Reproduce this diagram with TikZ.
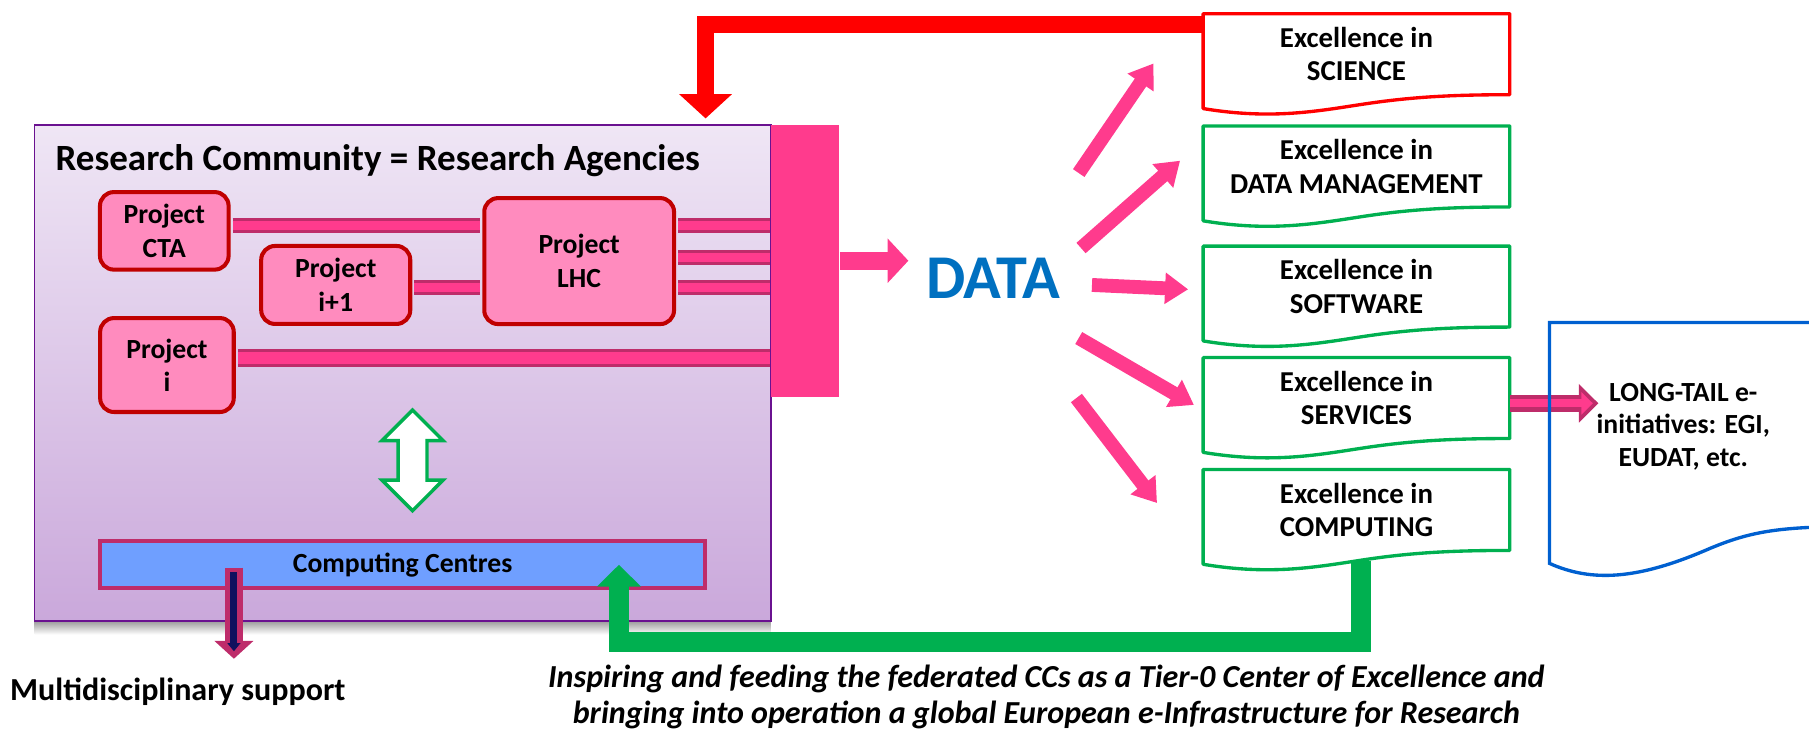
\documentclass[tikz,border=0pt]{standalone}
\usepackage{fontspec}
\setmainfont{Carlito}
\usetikzlibrary{arrows.meta,calc,shapes.arrows}

\definecolor{hotpink}{HTML}{FF3B8D}
\definecolor{linkdark}{HTML}{BE2C6A}
\definecolor{projpink}{HTML}{FF8BBE}
\definecolor{projred}{HTML}{C00000}
\definecolor{rcborder}{HTML}{6A1190}
\definecolor{rctop}{HTML}{EFE6F5}
\definecolor{rcbottom}{HTML}{CAA8DB}
\definecolor{ccblue}{HTML}{6F9FFF}
\definecolor{navy}{HTML}{10105E}
\definecolor{exgreen}{HTML}{00B050}
\definecolor{exred}{HTML}{FF0000}
\definecolor{ltblue}{HTML}{0060D0}
\definecolor{datablue}{HTML}{0070C0}

% outline of a document shape round a node, wavy at the bottom
\newcommand{\docoutline}[2]{%
  \draw[#2, line width=1.45pt, line join=round]
    (#1.north east) -- (#1.north west) -- ($(#1.south west)+(0,12)$)
    .. controls ($(#1.south west)+(60,22)$) and ($(#1.south west)+(100,14)$) .. ($(#1.south west)+(140,8)$)
    .. controls ($(#1.south west)+(180,2)$) and ($(#1.south west)+(215,0)$) .. (#1.south east) -- cycle;
}

\begin{document}
\begin{tikzpicture}[x=0.5pt, y=-0.5pt,
    txt/.style={font=\bfseries\fontsize{12}{14.5}\selectfont, align=center, inner sep=0pt},
    project/.style={txt, draw=projred, fill=projpink, line width=1.75pt, rounded corners=6pt},
    excl/.style={txt, font=\bfseries\fontsize{12.5}{14.5}\selectfont,
      minimum width=132.5pt, minimum height=34.7pt},
    link/.style={draw=linkdark, line width=1.3pt, double=hotpink, double distance=3.8pt},
    fan/.style={hotpink, line width=6pt, -{Triangle[width=13pt,length=10pt]}}
    ]
  \useasboundingbox (0,0) rectangle (1568,636);

  % research community box
  \shade[top color=black!40, bottom color=white] (30,538) rectangle (668,550);
  \node (rc) [draw=rcborder, line width=0.75pt, top color=rctop, bottom color=rcbottom,
              minimum width=319pt, minimum height=215pt, inner sep=0] at (349,323.3) {};
  \node (title) [anchor=base west, inner sep=0, font=\bfseries\fontsize{16.05}{19}\selectfont]
        at (47.8,147.4) {Research Community = Research Agencies};

  \node (databar) [fill=hotpink, minimum width=29.75pt, minimum height=117.75pt, inner sep=0] at (697.75,226) {};

  % projects
  \node (cta) [project, minimum width=55.75pt, minimum height=33.6pt] at (142.4,200.1) {Project\\CTA};
  \node (ip1) [project, minimum width=64.6pt, minimum height=33.8pt] at (291,247) {Project\\i+1};
  \node (lhc) [project, minimum width=82.25pt, minimum height=54.6pt] at (502,226.3) {Project\\LHC};
  \node (pi) [project, minimum width=57.9pt, minimum height=40.7pt] at (144.7,316.4) {Project\\i};

  \coordinate (l1) at ($(lhc.east)+(0,-31)$);
  \coordinate (l3) at ($(lhc.east)+(0,23)$);
  \draw[link, shorten <=.9pt, shorten >=.9pt] (cta.east |- l1) -- (lhc.west |- l1);
  \draw[link, shorten <=.9pt, shorten >=.9pt] (ip1.east |- l3) -- (lhc.west |- l3);
  \foreach \dy in {-31,-3,23}
    \draw[link, shorten <=.9pt] ($(lhc.east)+(0,\dy)$) coordinate (lk) -- (lk -| databar.west);
  \draw[link, double distance=5pt, shorten <=.9pt] ($(pi.east)+(0,-6)$) coordinate (lk) -- (lk -| databar.west);

  % computing centres
  \node (cc) [fill=ccblue, draw=linkdark, line width=1.75pt, minimum width=262.25pt, minimum height=20.25pt,
              inner sep=0, font=\bfseries\fontsize{12}{14}\selectfont] at (349,489.5) {Computing Centres};
  \node (sync) [double arrow, draw=exgreen, fill=white, line width=1.5pt, rotate=90,
                minimum height=43.6pt, minimum width=25pt, inner xsep=0pt, inner ysep=5.5pt,
                double arrow head extend=7pt] at (357.6,399) {};

  \coordinate (mtop) at ($(cc.west)+(117.75,2.5)$);
  \coordinate (mtip) at ($(mtop)+(0,79)$);
  \draw[linkdark, line width=8pt, -{Triangle[width=16.5pt,length=7.75pt]}] (mtop) -- (mtip);
  \draw[navy, line width=3pt, shorten <=2pt, shorten >=3.25pt, -{Triangle[width=5.5pt,length=3.5pt]}] (mtop) -- (mtip);
  \node (multi) [inner sep=0, font=\bfseries\fontsize{13.9}{16}\selectfont] at (154.1,599.5) {Multidisciplinary support};

  % data and the excellence documents
  \node (data) [inner sep=0, text=datablue, font=\bfseries\fontsize{27}{32}\selectfont] at (861,241) {DATA};
  \coordinate (datatip) at ($(databar.east -| data.west)+(-15,0)$);
  \draw[hotpink, line width=8pt, -{Triangle[width=18.75pt,length=9pt]}] (databar.east) -- (datatip);

  \node (science) [excl] at (1175.75,47) {Excellence in\\SCIENCE};
  \node (datamgmt) [excl] at (1175.75,144.3) {Excellence in\\DATA MANAGEMENT};
  \node (software) [excl] at (1175.75,248.4) {Excellence in\\SOFTWARE};
  \node (services) [excl] at (1175.75,345) {Excellence in\\SERVICES};
  \node (computing) [excl] at (1175.75,442) {Excellence in\\COMPUTING};

  \foreach \doc/\sx/\sy/\ex/\ey in {science/74/-91/-43/8, datamgmt/76/-26/-20/-5,
      software/85.5/6/-13/2.4, services/74/52/-8/6, computing/72/104/-40/-6}
    \draw[fan] ($(data)+(\sx,\sy)$) -- ($(\doc.west)+(\ex,\ey)$);

  % red feedback to the community
  \coordinate (redtip) at ($(rc.north east)+(-57.2,-4.9)$);
  \draw[exred, line width=7.2pt, line join=miter, -{Triangle[width=22.25pt,length=10.5pt]}]
    ($(science.north west)+(0,9.25)$) -| (redtip);

  % green feedback to the computing centres
  \coordinate (fbtip) at ($(cc.east)+(-76.5,0)$);
  \draw[exgreen, line width=8.75pt, line join=miter, -{Triangle[width=18.5pt,length=9.5pt]}]
    ($(computing.south)+(4,9)$) |- ($(fbtip)+(0,67)$) -- (fbtip);

  \foreach \doc/\col in {science/exred, datamgmt/exgreen, software/exgreen, services/exgreen, computing/exgreen}
    \docoutline{\doc}{\col};

  % long tail
  \node (longtail) [txt, font=\bfseries\fontsize{12}{14.15}\selectfont] at (1459,369.8)
        {LONG-TAIL e-\\initiatives: EGI,\\EUDAT, etc.};
  \coordinate (ltstart) at ($(services.east)+(0,4.6)$);
  \coordinate (lttip) at ($(ltstart -| longtail.west)+(2,0)$);
  \draw[linkdark, line width=7.2pt, -{Triangle[width=16.25pt,length=8.5pt]}] (ltstart) -- (lttip);
  \draw[hotpink, line width=3.5pt, shorten >=2.4pt, -{Triangle[width=9.5pt,length=5pt]}] (ltstart) -- (lttip);
  \draw[ltblue, line width=1.45pt]
    (1610,279.5) -- (1343,279.5) -- (1343,488.3)
    .. controls (1380,505) and (1420,502) .. (1479,476.7)
    .. controls (1520,459) and (1545,457) .. (1610,456);

  \node (feed) [align=center, inner sep=0, font=\bfseries\itshape\fontsize{13.9}{15.6}\selectfont] at (907,604)
        {Inspiring and feeding the federated CCs as a Tier-0 Center of Excellence and\\
         bringing into operation a global European e-Infrastructure for Research};
\end{tikzpicture}
\end{document}
